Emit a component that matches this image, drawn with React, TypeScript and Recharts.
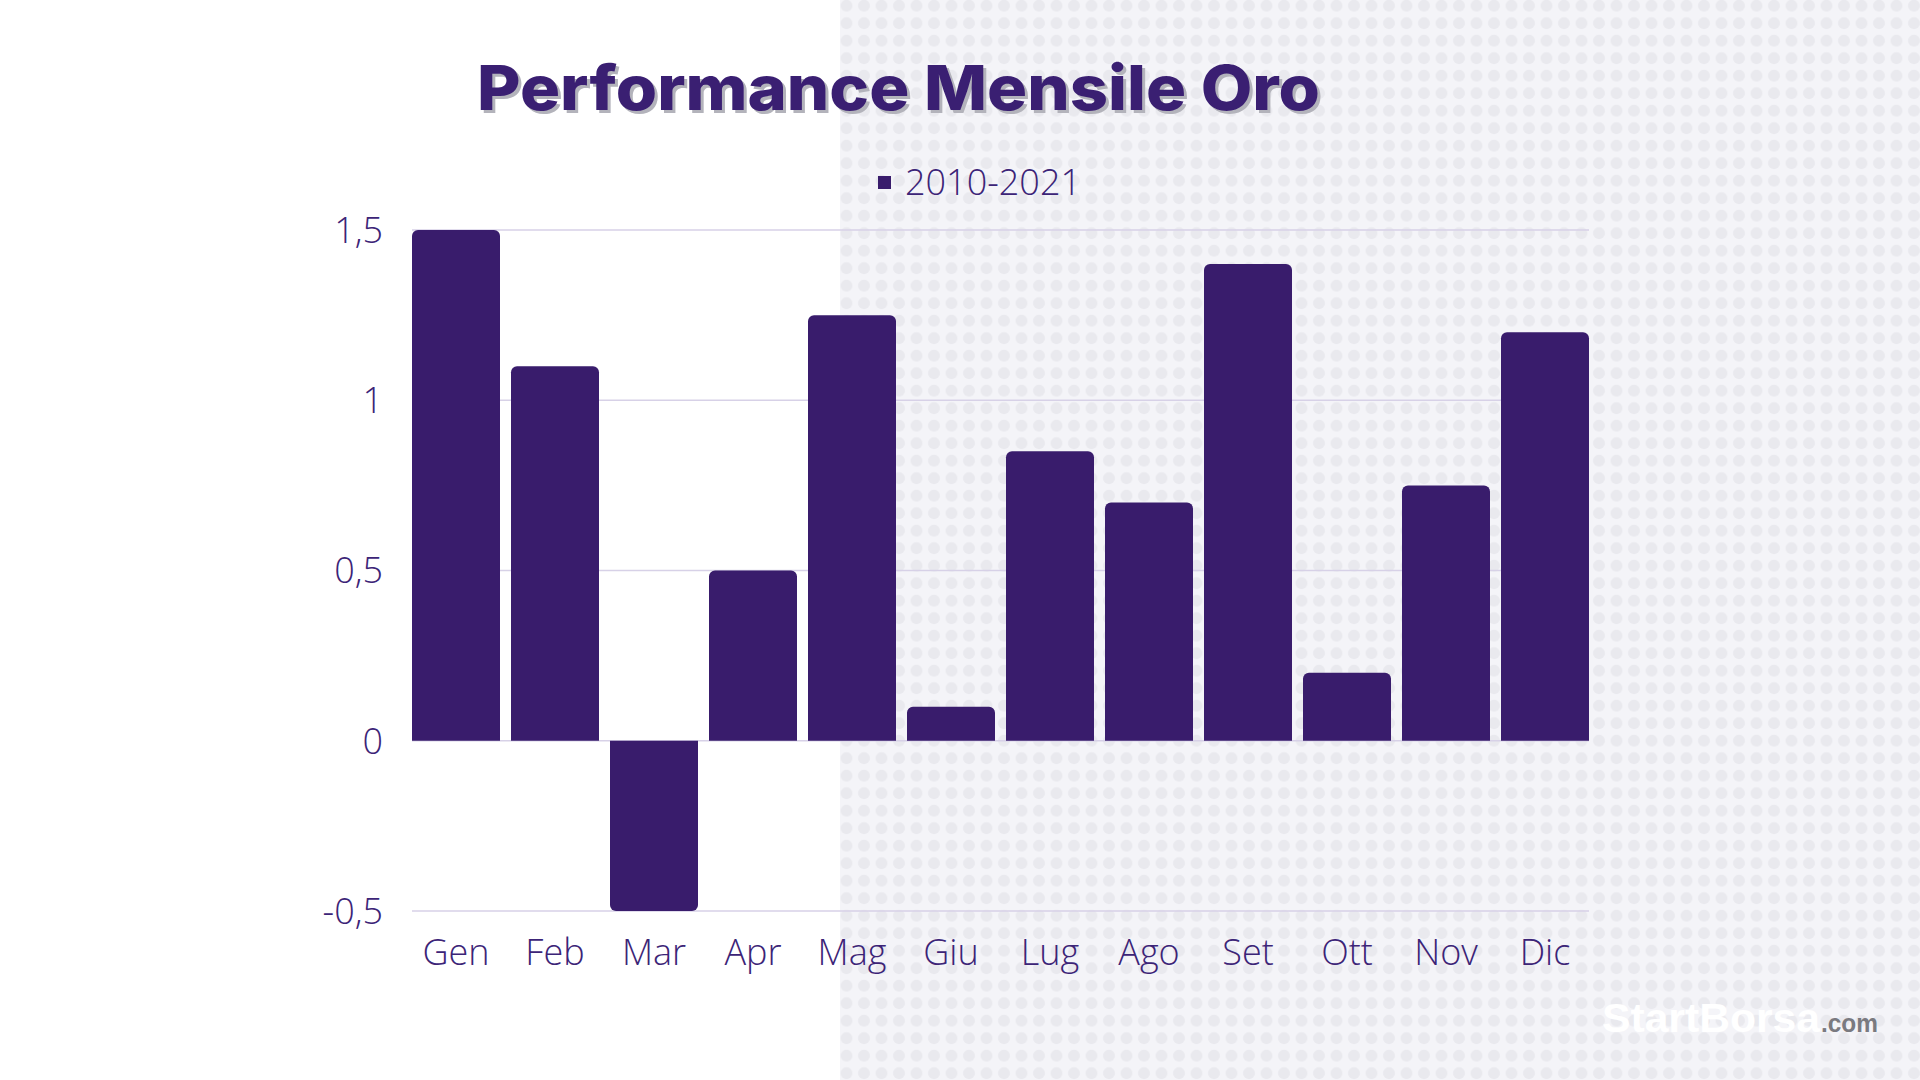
import React from 'react';
import { BarChart, Bar, XAxis, YAxis, CartesianGrid, Legend } from 'recharts';

const months = ['Gen', 'Feb', 'Mar', 'Apr', 'Mag', 'Giu', 'Lug', 'Ago', 'Set', 'Ott', 'Nov', 'Dic'];
const perf = [1.5, 1.1, -0.5, 0.5, 1.25, 0.1, 0.85, 0.7, 1.4, 0.2, 0.75, 1.2];
const yTicks = [-0.5, 0, 0.5, 1, 1.5];
const seriesName = '2010-2021';
const title = 'Performance Mensile Oro';

const data = months.map((m, i) => ({ month: m, value: perf[i] }));

const BAR = '#391c6c';
const TEXT = '#3c2477';
const GRID = '#d7d1e7';

const fmt = (v: number) => String(v).replace('.', ',');

const LegendContent = (props: any) => {
  const { payload } = props;
  return (
    <div style={{ display: 'flex', alignItems: 'center' }}>
      {(payload || []).map((p: any) => (
        <div key={p.value} style={{ display: 'flex', alignItems: 'center' }}>
          <div style={{ width: 13, height: 13, background: BAR, marginRight: 14 }} />
          <span style={{ fontFamily: '"Open Sans", sans-serif', fontWeight: 300, fontSize: 36, color: TEXT, lineHeight: '40px' }}>
            {p.value}
          </span>
        </div>
      ))}
    </div>
  );
};

export default function App() {
  return (
    <div style={{ position: 'absolute', left: 0, top: 0, width: 1920, height: 1080, background: '#ffffff', overflow: 'hidden' }}>
      <svg width={1920} height={1080} style={{ position: 'absolute', left: 0, top: 0 }}>
        <defs>
          <pattern id="dots" patternUnits="userSpaceOnUse" x={1310.25} y={206.95} width={17.5} height={17.5}>
            <circle cx={8.75} cy={8.75} r={6} fill="#e9e9ee" />
          </pattern>
        </defs>
        <rect x={840} y={0} width={1080} height={1080} fill="#f4f4f8" />
        <rect x={840} y={0} width={1080} height={1080} fill="url(#dots)" />
      </svg>
      <div style={{ position: 'absolute', left: 0, top: 0 }}>
        <BarChart
          width={1920}
          height={1080}
          data={data}
          margin={{ top: 230, right: 331, bottom: 109, left: 332 }}
          barCategoryGap={5.5}
        >
          <CartesianGrid horizontal vertical={false} stroke={GRID} strokeWidth={1.5} />
          <XAxis
            dataKey="month"
            height={60}
            axisLine={false}
            tickLine={false}
            tickSize={0}
            tickMargin={28}
            interval={0}
            padding={{ left: -5.5, right: -5.5 }}
            tick={{ fill: TEXT, fontSize: 36, fontFamily: '"Open Sans", sans-serif', fontWeight: 300 }}
          />
          <YAxis
            width={80}
            domain={[-0.5, 1.5]}
            ticks={yTicks}
            axisLine={false}
            tickLine={false}
            tickSize={0}
            tickMargin={29}
            tickFormatter={fmt}
            tick={{ fill: TEXT, fontSize: 36, fontFamily: '"Open Sans", sans-serif', fontWeight: 300 }}
          />
          <Legend
            layout="horizontal"
            verticalAlign="middle"
            align="center"
            content={<LegendContent />}
            wrapperStyle={{ position: 'absolute', left: 878, top: 162, width: 'auto', height: 40 }}
          />
          <Bar dataKey="value" name={seriesName} fill={BAR} radius={[6, 6, 0, 0]} isAnimationActive={false} />
        </BarChart>
      </div>
      <svg width={1920} height={1080} style={{ position: 'absolute', left: 0, top: 0, pointerEvents: 'none' }}>
        <text
          x={480}
          y={113}
          textLength={843}
          lengthAdjust="spacingAndGlyphs"
          fill="#b3b3bb"
          style={{ fontFamily: 'Inter, "Open Sans", sans-serif', fontWeight: 800, fontSize: 62 }}
        >
          {title}
        </text>
        <text
          x={477}
          y={110}
          textLength={843}
          lengthAdjust="spacingAndGlyphs"
          fill={'#3a1f72'}
          style={{ fontFamily: 'Inter, "Open Sans", sans-serif', fontWeight: 800, fontSize: 62 }}
        >
          {title}
        </text>
        <text
          x={1602}
          y={1032}
          textLength={218}
          lengthAdjust="spacingAndGlyphs"
          fill="#ffffff"
          style={{ fontFamily: '"Liberation Sans", Arial, sans-serif', fontWeight: 700, fontSize: 40 }}
        >
          StartBorsa
        </text>
        <text
          x={1821}
          y={1032}
          textLength={57}
          lengthAdjust="spacingAndGlyphs"
          fill="#7a7a80"
          style={{ fontFamily: '"Liberation Sans", Arial, sans-serif', fontWeight: 700, fontSize: 25 }}
        >
          .com
        </text>
      </svg>
    </div>
  );
}
